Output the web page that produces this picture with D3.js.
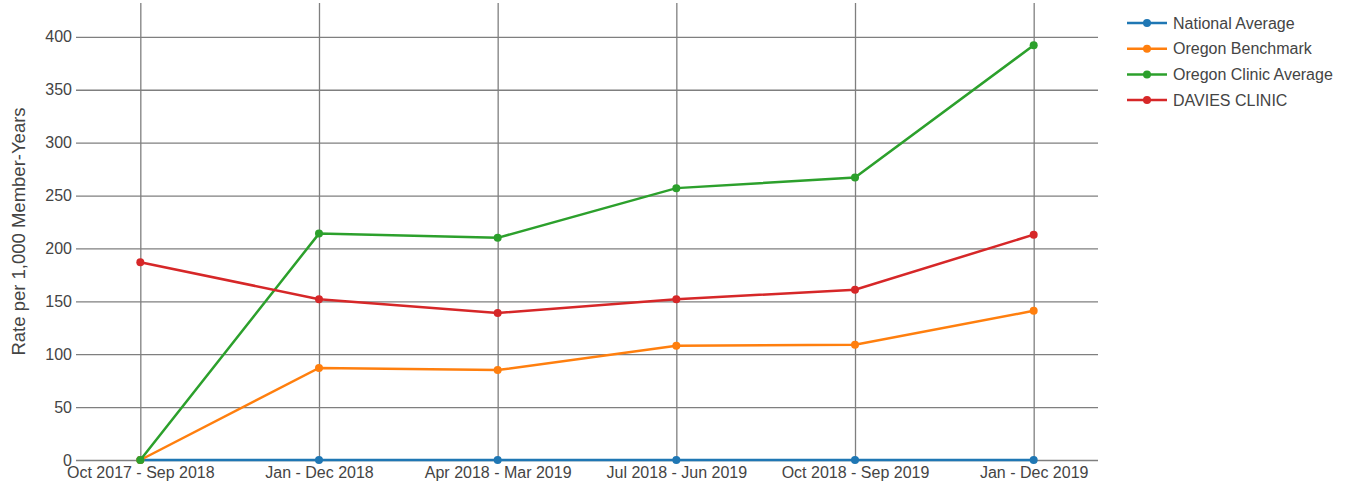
<!DOCTYPE html>
<html>
<head>
	<title>Rate per 1,000 Member-Years</title>
	<script src="https://d3js.org/d3.v7.min.js" charset="utf-8"></script>
	<style>
		body { margin: 0; background: #fff; }
		text { font-family: "Liberation Sans", Arial, sans-serif; }
	</style>
</head>
<body>
	<svg width="1345" height="486"></svg>
	<script>
		var categories = ['Oct 2017 - Sep 2018', 'Jan - Dec 2018', 'Apr 2018 - Mar 2019',
			'Jul 2018 - Jun 2019', 'Oct 2018 - Sep 2019', 'Jan - Dec 2019'];
		var seriesNames = ['National Average', 'Oregon Benchmark', 'Oregon Clinic Average', 'DAVIES CLINIC'];
		var nationalAverage = [0, 0, 0, 0, 0, 0];
		var oregonBenchmark = [0, 87, 85, 108, 109, 141];
		var oregonClinicAverage = [0, 214, 210, 257, 267, 392];
		var daviesClinic = [187, 152, 139, 152, 161, 213];
		var yTicks = [0, 50, 100, 150, 200, 250, 300, 350, 400];
		var colors = ['#1f77b4', '#ff7f0e', '#2ca02c', '#d62728'];

		var series = [nationalAverage, oregonBenchmark, oregonClinicAverage, daviesClinic];

		const plotLeft = 76, plotRight = 1098, plotTop = 3, plotBottom = 460;

		var svg = d3.select('svg');

		const xScale = d3.scalePoint()
			.domain(categories)
			.range([plotLeft, plotRight])
			.padding(0.36);

		const yScale = d3.scaleLinear()
			.domain([0, 432])
			.range([plotBottom, plotTop]);

		// horizontal grid
		svg.append('g')
			.attr('transform', `translate(${plotLeft}, 0)`)
			.call(d3.axisLeft(yScale).tickValues(yTicks).tickSize(-(plotRight - plotLeft)).tickPadding(4))
			.call(g => g.select('.domain').remove())
			.call(g => g.selectAll('.tick line').attr('stroke', '#7f7f7f').attr('stroke-width', 1.3))
			.call(g => g.selectAll('.tick text').attr('fill', '#444').style('font-size', '16px'));

		// vertical grid + labels
		svg.append('g')
			.attr('transform', `translate(0, ${plotBottom})`)
			.call(d3.axisBottom(xScale).tickSize(-(plotBottom - plotTop)).tickPadding(6.5))
			.call(g => g.select('.domain').remove())
			.call(g => g.selectAll('.tick line').attr('stroke', '#7f7f7f').attr('stroke-width', 1.3))
			.call(g => g.selectAll('.tick text').attr('fill', '#444').style('font-size', '16px'));

		// axis title
		svg.append('text')
			.attr('transform', `translate(25, ${(plotTop + plotBottom) / 2}) rotate(-90)`)
			.attr('text-anchor', 'middle')
			.attr('fill', '#444')
			.style('font-size', '18.5px')
			.text('Rate per 1,000 Member-Years');

		var line = d3.line()
			.x((d, i) => xScale(categories[i]))
			.y(d => yScale(d));

		series.forEach(function(s, k) {
			var g = svg.append('g');
			g.append('path')
				.datum(s)
				.attr('d', line)
				.attr('fill', 'none')
				.attr('stroke', colors[k])
				.attr('stroke-width', 2.5);
			g.selectAll('circle')
				.data(s)
				.enter()
				.append('circle')
				.attr('cx', (d, i) => xScale(categories[i]))
				.attr('cy', d => yScale(d))
				.attr('r', 4)
				.attr('fill', colors[k]);
		});

		// legend
		var legend = svg.append('g').attr('transform', 'translate(1127, 23)');
		var item = legend.selectAll('g')
			.data(seriesNames)
			.enter()
			.append('g')
			.attr('transform', (d, i) => `translate(0, ${i * 25.7})`);
		item.append('line')
			.attr('x1', 0).attr('x2', 40)
			.attr('stroke', (d, i) => colors[i])
			.attr('stroke-width', 2.5);
		item.append('circle')
			.attr('cx', 20).attr('r', 4)
			.attr('fill', (d, i) => colors[i]);
		item.append('text')
			.attr('x', 46).attr('dy', '0.35em')
			.attr('fill', '#444')
			.style('font-size', '16px')
			.text(d => d);
	</script>
</body>
</html>
